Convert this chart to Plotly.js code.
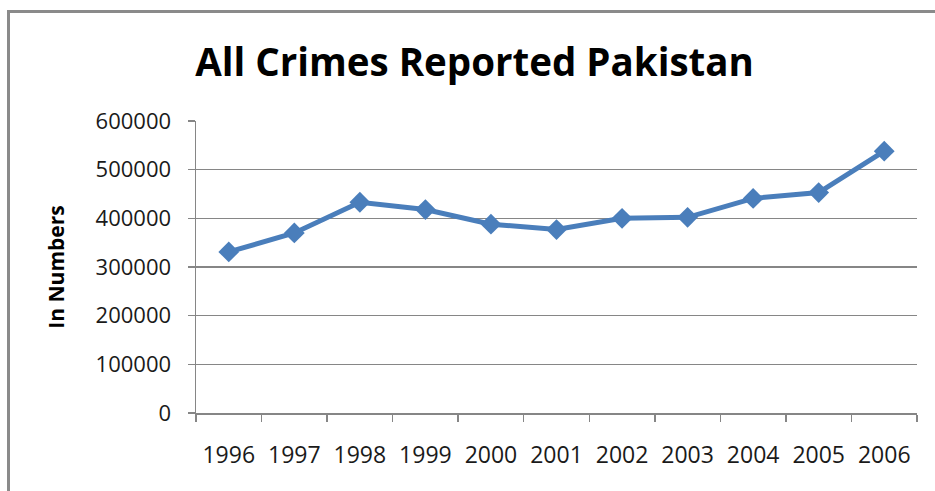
<!DOCTYPE html>
<html>
<head>
<meta charset="utf-8">
<script src="https://cdn.plot.ly/plotly-3.0.1.min.js"></script>
<style>
  html, body { margin: 0; padding: 0; background: #ffffff; }
  #frame { position: absolute; left: 7px; top: 10px; width: 1000px; height: 600px; border-left: 3px solid #8a8a8a; border-top: 3px solid #8a8a8a; }
  #chart { position: absolute; left: 0; top: 0; width: 935px; height: 491px; }
</style>
</head>
<body>
<div id="frame"></div>
<div id="chart"></div>
<script>
const years = ["1996", "1997", "1998", "1999", "2000", "2001", "2002", "2003", "2004", "2005", "2006"];
const crimes = [331000, 370000, 433000, 418000, 388000, 377000, 400000, 402000, 441000, 453000, 538000];
const yTicks = [0, 100000, 200000, 300000, 400000, 500000, 600000];
const yTickText = ["0", "100000", "200000", "300000", "400000", "500000", "600000"];

const trace = {
  x: years,
  y: crimes,
  type: "scatter",
  mode: "lines+markers",
  line: { color: "#4a7ebb", width: 5 },
  marker: { symbol: "diamond", size: 16, color: "#4a7ebb" },
  hoverinfo: "x+y"
};

const layout = {
  width: 935,
  height: 491,
  margin: { l: 196, r: 18, t: 121, b: 78 },
  paper_bgcolor: "rgba(0,0,0,0)",
  plot_bgcolor: "rgba(0,0,0,0)",
  showlegend: false,
  title: {
    text: "<b>All Crimes Reported Pakistan</b>",
    font: { family: "Open Sans, sans-serif", size: 38.5, color: "#000000" },
    x: 0.5075, xref: "container", xanchor: "center",
    y: 0.872, yref: "container", yanchor: "middle"
  },
  xaxis: {
    type: "category",
    range: [-0.5, 10.5],
    tickson: "boundaries",
    ticks: "outside",
    ticklen: 7,
    tickcolor: "#868686",
    tickwidth: 1.5,
    showline: true,
    linecolor: "#868686",
    linewidth: 1.5,
    showgrid: false,
    zeroline: false,
    tickfont: { family: "Open Sans, sans-serif", size: 23, color: "#1a1a1a" },
    ticklabelstandoff: 21
  },
  yaxis: {
    range: [0, 600000],
    tickvals: yTicks,
    ticktext: yTickText,
    ticks: "outside",
    ticklen: 7,
    tickcolor: "#868686",
    tickwidth: 1.5,
    showline: true,
    linecolor: "#868686",
    linewidth: 1.5,
    showgrid: true,
    gridcolor: "#868686",
    gridwidth: 1.5,
    zeroline: false,
    tickfont: { family: "Open Sans, sans-serif", size: 22, color: "#1a1a1a" },
    ticklabelstandoff: 12,
    title: {
      text: "<b>In Numbers</b>",
      font: { family: "Open Sans, sans-serif", size: 21, color: "#000000" },
      standoff: 25
    }
  }
};

Plotly.newPlot("chart", [trace], layout, { displayModeBar: false, staticPlot: true });
</script>
</body>
</html>
